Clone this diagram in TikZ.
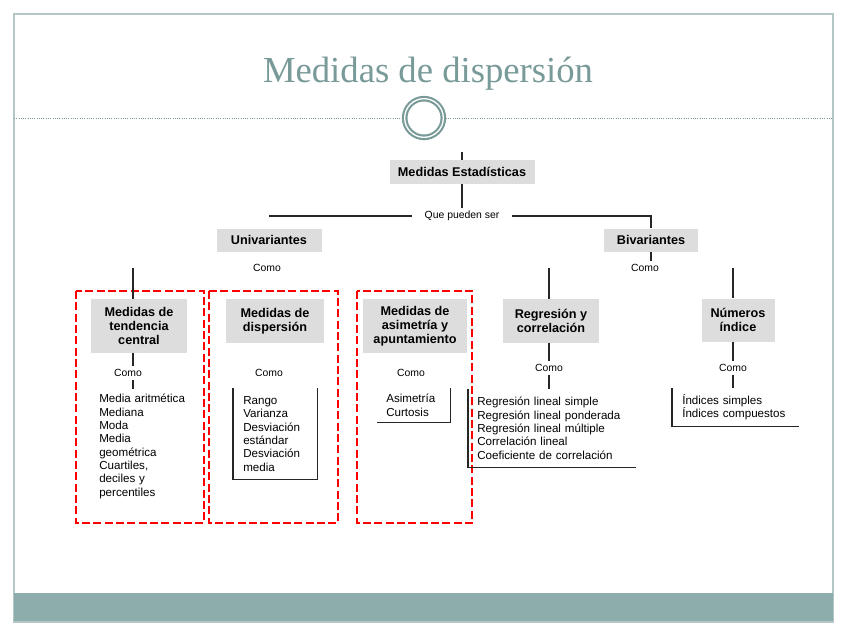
\documentclass[tikz,border=0pt]{standalone}
\usepackage{fontspec}
\setmainfont{Liberation Serif}
\setsansfont{Liberation Sans}
\usetikzlibrary{positioning,calc}
\definecolor{tealtitle}{RGB}{120,154,152}
\definecolor{tealband}{RGB}{141,173,172}
\definecolor{tealframe}{RGB}{178,200,199}
\definecolor{boxgray}{RGB}{221,221,221}

\begin{document}
\begin{tikzpicture}[
    x=0.75pt, y=-0.75pt,
    box/.style={
        rectangle,
        fill=boxgray,
        align=center,
        inner sep=1pt,
        font=\sffamily\bfseries\fontsize{9.5}{10.5}\selectfont
    },
    link/.style={
        inner xsep=2pt,
        inner ysep=2pt,
        font=\sffamily\fontsize{7.8}{9}\selectfont
    },
    items/.style={
        anchor=north west,
        align=left,
        inner ysep=0pt,
        font=\sffamily\fontsize{8.7}{10}\selectfont
    },
    line/.style={draw=black!85, line width=0.8pt},
    bracket/.style={draw=black!85, line width=0.9pt},
    redbox/.style={draw=red, line width=1.9pt, dash pattern=on 6pt off 2.5pt}
]

% Slide
\fill[white] (0,0) rectangle (848,636);
\useasboundingbox (0,0) rectangle (848,636);
\draw[tealframe, line width=1.2pt] (14,14) rectangle (833,622);
\fill[tealband] (14,593) rectangle (833,621);

% Title
\node[font=\rmfamily\fontsize{27.5}{30}\selectfont, text=tealtitle, anchor=base] (title) at (428,82) {Medidas de dispersión};
\node[circle, draw=tealtitle, double=white, double distance=1pt, line width=1.6pt, minimum size=29pt, inner sep=0pt] (ring) at (424,118) {};
\coordinate (hleft) at (14,118);
\coordinate (hright) at (833,118);
\draw[tealtitle, line width=0.7pt, densely dotted] (hleft) -- ([xshift=-1pt]ring.west);
\draw[tealtitle, line width=0.7pt, densely dotted] ([xshift=1pt]ring.east) -- (hright);

% Top level
\coordinate (esttop) at (462,152);
\node[box, minimum width=108.75pt, minimum height=18pt] (est) at (462,172) {Medidas Estadísticas};
\node[link, inner xsep=9pt] (que) at (462,216) {Que pueden ser};
\node[box, minimum width=78.75pt, minimum height=17.25pt] (uni) at (269,240) {Univariantes};
\node[box, minimum width=70.5pt, minimum height=17.25pt] (biv) at (651,240) {Bivariantes};
\node[link] (comoU) at (267,268) {Como};
\node[link] (comoB) at (645,268) {Como};

% Red frames
\draw[redbox] (76,291) rectangle (204,523);
\draw[redbox] (209,291) rectangle (338,523);
\draw[redbox] (357,291) rectangle (472,523);

% Univariantes branch
\coordinate (tendarm) at (133,268);
\node[box, minimum width=72pt, minimum height=40.5pt] (tend) at (139,326) {Medidas de\\tendencia\\central};
\node[box, minimum width=73.5pt, minimum height=33pt] (disp) at (275,321) {Medidas de\\dispersión};
\node[box, minimum width=78pt, minimum height=40.5pt] (asim) at (415,326) {Medidas de\\asimetría y\\apuntamiento};
\node[link] (comoT) at (128,373) {Como};
\node[link] (comoD) at (269,373) {Como};
\node[link] (comoA) at (411,373) {Como};
\node[items, inner xsep=0pt, text width=72pt] (listT) at (99,394) {Media aritmética\\Mediana\\Moda\\Media\\geométrica\\Cuartiles,\\deciles y\\percentiles};
\node[items, inner xsep=7.5pt, text width=48pt, minimum height=68.25pt] (listD) at (233,388) {Rango\\Varianza\\Desviación\\estándar\\Desviación\\media};
\node[items, inner xsep=6.75pt, text width=41.25pt, minimum height=25.5pt] (listA) at (377,388) {Asimetría\\Curtosis};

% Bivariantes branch
\coordinate (regrarm) at (549,268);
\coordinate (numarm) at (733,268);
\node[box, minimum width=72pt, minimum height=33pt] (regr) at (551,321) {Regresión y\\correlación};
\node[box, minimum width=54.75pt, minimum height=32.25pt] (num) at (738,320) {Números\\índice};
\node[link] (comoR) at (549,368) {Como};
\node[link] (comoN) at (733,368) {Como};
\node[items, inner xsep=6.75pt, text width=111.75pt, minimum height=58.5pt] (listR) at (468,389) {Regresión lineal simple\\Regresión lineal ponderada\\Regresión lineal múltiple\\Correlación lineal\\Coeficiente de correlación};
\node[items, inner xsep=7.5pt, text width=80pt, minimum height=28.5pt] (listN) at (672,388) {Índices simples\\Índices compuestos};

% Connectors - top
\draw[line] (esttop) -- (est.north);
\draw[line] (est.south) -- (que.north);
\draw[line] (que.west) -- (uni.north |- que.west);
\draw[line] (que.east) -| (biv.north);
\draw[line] (biv.south) -- (biv.south |- comoB.north);

% Connectors - univariantes
\draw[line] (tendarm) -- (tendarm |- tend.north);
\draw[line] (tendarm |- tend.south) -- (tendarm |- comoT.north);
\draw[line, shorten >=4pt] (tendarm |- comoT.south) -- (tendarm |- listT.north);

% Connectors - bivariantes
\draw[line] (regrarm) -- (regrarm |- regr.north);
\draw[line] (regrarm |- regr.south) -- (regrarm |- comoR.north);
\draw[line] (regrarm |- comoR.south) -- (regrarm |- listR.north);
\draw[line] (numarm) -- (numarm |- num.north);
\draw[line] (numarm |- num.south) -- (numarm |- comoN.north);
\draw[line] (numarm |- comoN.south) -- (numarm |- listN.north);

% Brackets
\draw[bracket] (listD.north west) -- (listD.south west) -- (listD.south east) -- (listD.north east);
\draw[bracket] (listA.south west) -- (listA.south east) -- (listA.north east);
\draw[bracket] (listR.north west) -- (listR.south west) -- (listR.south east);
\draw[bracket] (listN.north west) -- (listN.south west) -- (listN.south east);

\end{tikzpicture}
\end{document}
